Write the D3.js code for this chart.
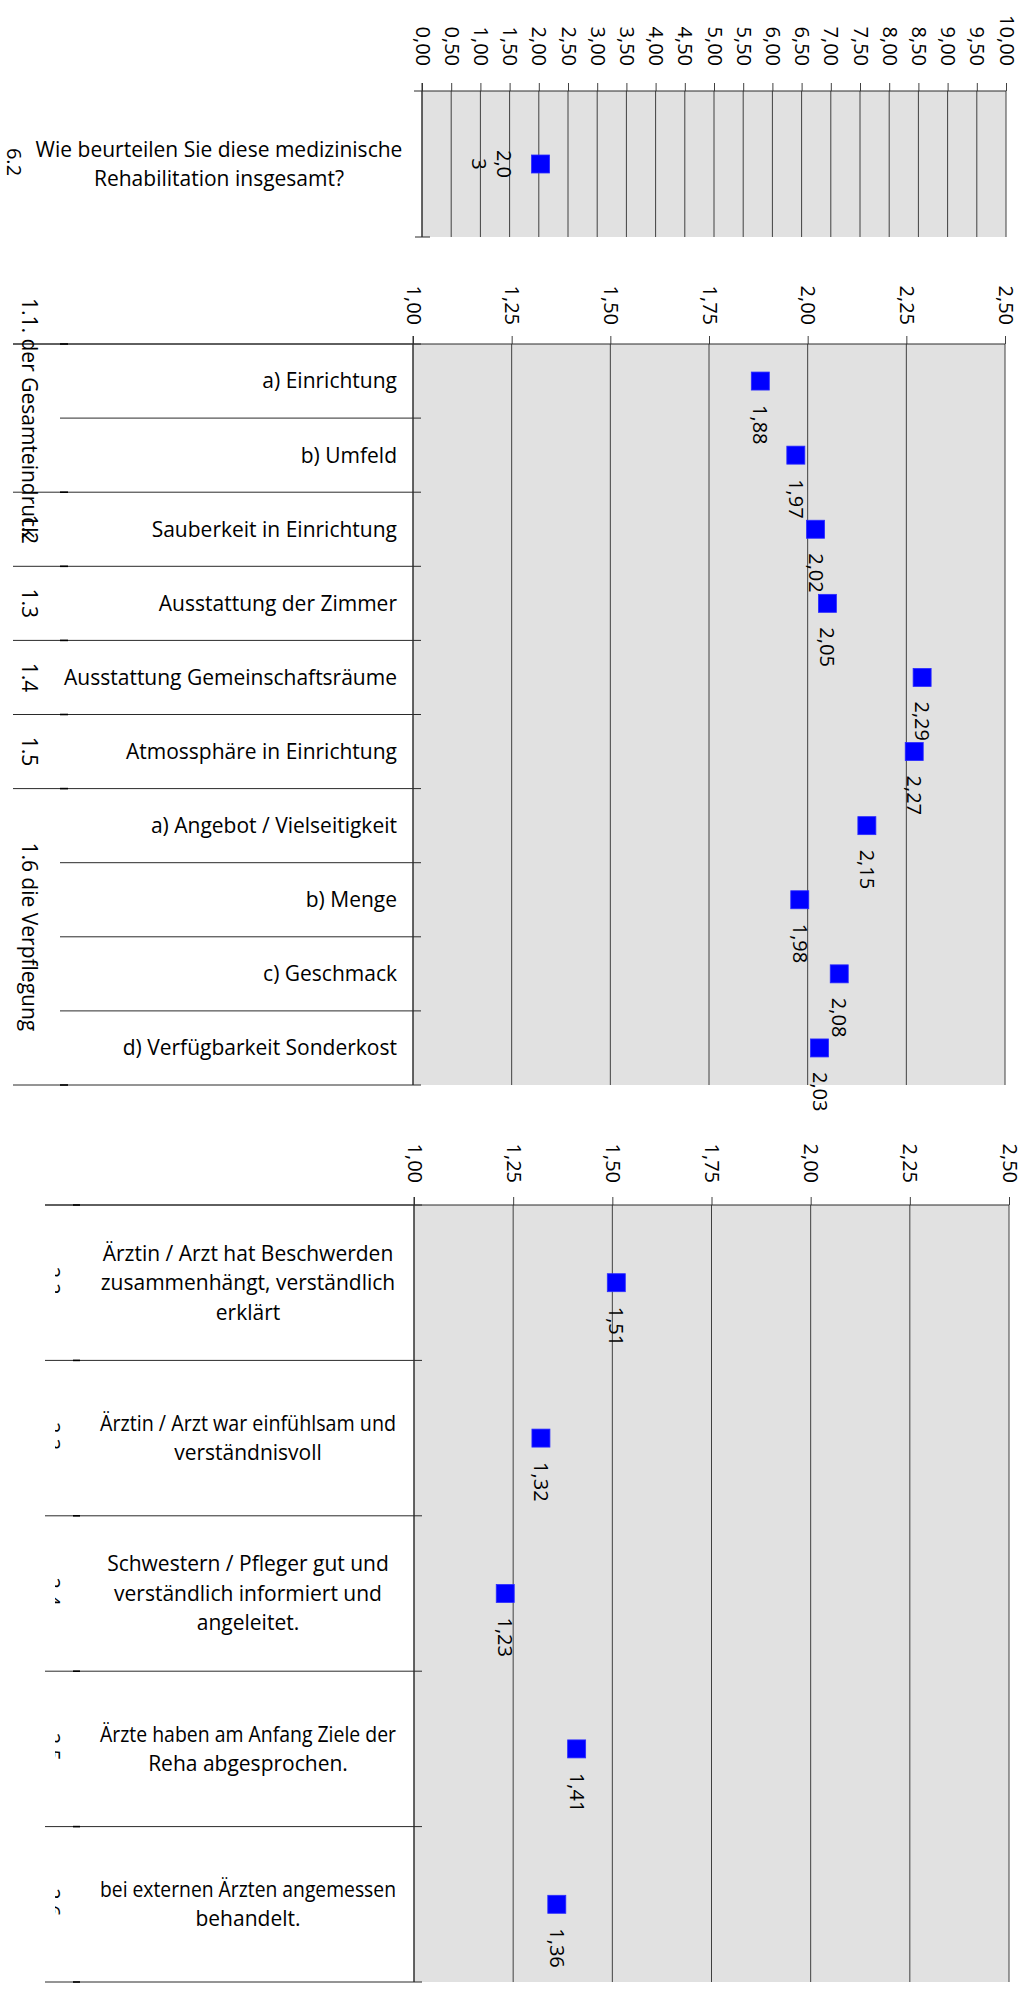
<!DOCTYPE html>
<html>
<head>
<meta charset="utf-8">
<script src="https://cdn.jsdelivr.net/npm/d3@7"></script>
<style>
body { margin: 0; background: #fff; }
text { font-family: "Open Sans", sans-serif; fill: #000; }
</style>
</head>
<body>
<svg id="chart" width="1027" height="1992"></svg>
<script>
// ---- panel 1: overall rating ----
var overallCode = "6.2";
var overallLabel = ["Wie beurteilen Sie diese medizinische", "Rehabilitation insgesamt?"];
var overallValue = [2.03];
var overallTicks = d3.range(0, 10.001, 0.5);

// ---- panel 2: facility ----
var facilityItems = ["a) Einrichtung", "b) Umfeld", "Sauberkeit in Einrichtung", "Ausstattung der Zimmer",
  "Ausstattung Gemeinschaftsräume", "Atmossphäre in Einrichtung", "a) Angebot / Vielseitigkeit",
  "b) Menge", "c) Geschmack", "d) Verfügbarkeit Sonderkost"];
var facilityValues = [1.88, 1.97, 2.02, 2.05, 2.29, 2.27, 2.15, 1.98, 2.08, 2.03];
var groupLabels = ["1.1. der Gesamteindruck", "1.2", "1.3", "1.4", "1.5", "1.6 die Verpflegung"];
var groupStarts = [0, 2, 3, 4, 5, 6];
var groupSizes = [2, 1, 1, 1, 1, 4];

// ---- panel 3: care ----
var careItems = [
  ["Ärztin / Arzt hat Beschwerden", "zusammenhängt, verständlich", "erklärt"],
  ["Ärztin / Arzt war einfühlsam und", "verständnisvoll"],
  ["Schwestern / Pfleger gut und", "verständlich informiert und", "angeleitet."],
  ["Ärzte haben am Anfang Ziele der", "Reha abgesprochen."],
  ["bei externen Ärzten angemessen", "behandelt."]
];
var careCodes = ["2.2", "2.3", "2.4", "2.5", "2.6"];
var careValues = [1.51, 1.32, 1.23, 1.41, 1.36];

var detailTicks = d3.range(1, 2.5001, 0.25);

var fmt = function(d) { return d3.format(".2f")(d).replace(".", ","); };
var svg = d3.select("#chart");
var GRID = "#404040", LINE = "#2a2a2a", PLOT_BG = "#e1e1e1", MARK = "#0000ff";

// draws top value axis with rotated labels, gridlines and background
function valuePanel(x, top, bottom, ticks, lineStart, gap, fontSize) {
  var g = svg.append("g");
  g.append("rect")
    .attr("x", x.range()[0]).attr("y", top)
    .attr("width", x.range()[1] - x.range()[0]).attr("height", bottom - top)
    .attr("fill", PLOT_BG);

  g.selectAll("line.grid").data(ticks).join("line")
    .attr("class", "grid")
    .attr("x1", d => x(d)).attr("x2", d => x(d))
    .attr("y1", top).attr("y2", bottom)
    .attr("stroke", GRID).attr("stroke-width", 1);

  var axis = d3.axisTop(x).tickValues(ticks).tickFormat(fmt).tickSize(8).tickSizeOuter(0);
  var ax = g.append("g").attr("transform", "translate(0," + top + ")").call(axis);
  ax.select(".domain").remove();
  ax.selectAll(".tick line").attr("stroke", GRID);
  ax.selectAll(".tick text")
    .attr("transform", "rotate(90)")
    .attr("x", -gap).attr("y", 0).attr("dy", "0.35em")
    .attr("text-anchor", "end")
    .style("font-family", "Open Sans")
    .style("font-size", fontSize + "px");

  g.append("line")
    .attr("x1", lineStart).attr("x2", x.range()[1])
    .attr("y1", top).attr("y2", top)
    .attr("stroke", LINE);
  g.append("line")
    .attr("x1", x.range()[0]).attr("x2", x.range()[0])
    .attr("y1", top - 8).attr("y2", bottom)
    .attr("stroke", LINE);
  return g;
}

function squares(g, x, cy, values) {
  g.selectAll("rect.pt").data(values).join("rect")
    .attr("class", "pt")
    .attr("x", d => x(d) - 9).attr("y", (d, i) => cy(i) - 9)
    .attr("width", 18).attr("height", 18)
    .attr("fill", MARK).attr("stroke", "#2b2bff").attr("stroke-width", 0.8);
}

// ============ panel 1 ============
var x1 = d3.scaleLinear().domain([0, 10]).range([422, 1006]);
var p1Top = 91, p1Bottom = 237, p1Mid = (p1Top + p1Bottom) / 2;
var g1 = valuePanel(x1, p1Top, p1Bottom, overallTicks, 414, 25, 20);
g1.append("line").attr("x1", 415).attr("x2", 430).attr("y1", p1Bottom).attr("y2", p1Bottom).attr("stroke", LINE);

squares(g1, x1, () => p1Mid, overallValue);

var lbl1 = g1.append("text")
  .attr("transform", "translate(" + (x1(overallValue[0]) - 37) + "," + p1Mid + ") rotate(90)")
  .attr("text-anchor", "middle")
  .style("font-size", "20px");
lbl1.append("tspan").attr("x", 0).attr("dy", "0.35em").text(fmt(overallValue[0]).slice(0, 3));
lbl1.append("tspan").attr("x", 0).attr("dy", "1.25em").text(fmt(overallValue[0]).slice(3));

var q1 = g1.append("text").attr("text-anchor", "middle").style("font-size", "21px");
q1.selectAll("tspan").data(overallLabel).join("tspan")
  .attr("x", 219)
  .attr("y", (d, i) => p1Mid + (i - (overallLabel.length - 1) / 2) * 29.5)
  .attr("dy", "0.35em")
  .text(d => d);

g1.append("text")
  .attr("transform", "translate(14," + (p1Mid - 2) + ") rotate(90)")
  .attr("text-anchor", "middle").attr("dy", "0.35em")
  .style("font-size", "20px")
  .text(overallCode);

// ============ panel 2 ============
var x2 = d3.scaleLinear().domain([1, 2.5]).range([413, 1005]);
var y2 = d3.scaleBand().domain(d3.range(facilityItems.length)).range([344, 1085]);
var g2 = valuePanel(x2, 344, 1085, detailTicks, 13, 19, 20);

// category separators
var boundaries2 = [];
groupStarts.forEach(function(s, gi) {
  for (var k = 0; k < groupSizes[gi]; k++) {
    boundaries2.push({ y: y2(s + k), outer: k === 0 });
  }
});
boundaries2.push({ y: 1085, outer: true });
g2.selectAll("line.sep").data(boundaries2).join("line")
  .attr("class", "sep")
  .attr("x1", d => d.outer ? 13 : 60).attr("x2", 421)
  .attr("y1", d => d.y).attr("y2", d => d.y)
  .attr("stroke", LINE);
// small darker ticks of the outer category level
g2.selectAll("line.otick").data(boundaries2.filter(d => d.outer)).join("line")
  .attr("class", "otick")
  .attr("x1", 60).attr("x2", 68)
  .attr("y1", d => d.y).attr("y2", d => d.y)
  .attr("stroke", "#000").attr("stroke-width", 1.6);

g2.selectAll("text.item").data(facilityItems).join("text")
  .attr("class", "item")
  .attr("x", 397)
  .attr("y", (d, i) => y2(i) + y2.bandwidth() / 2)
  .attr("dy", "0.35em")
  .attr("text-anchor", "end")
  .style("font-size", "21px")
  .text(d => d);

g2.selectAll("text.group").data(groupLabels).join("text")
  .attr("class", "group")
  .attr("transform", (d, i) => "translate(29," +
      (y2(groupStarts[i]) + groupSizes[i] * y2.bandwidth() / 2) + ") rotate(90)")
  .attr("text-anchor", "middle").attr("dy", "0.35em")
  .style("font-size", "21px")
  .text(d => d);

var cy2 = i => y2(i) + y2.bandwidth() / 2;
squares(g2, x2, cy2, facilityValues);
g2.selectAll("text.val").data(facilityValues).join("text")
  .attr("class", "val")
  .attr("transform", (d, i) => "translate(" + x2(d) + "," + (cy2(i) + 24) + ") rotate(90)")
  .attr("dy", "0.35em")
  .style("font-size", "20px")
  .text(d => fmt(d));

// ============ panel 3 ============
var x3 = d3.scaleLinear().domain([1, 2.5]).range([414, 1009]);
var y3 = d3.scaleBand().domain(d3.range(careItems.length)).range([1205, 1982]);
var g3 = valuePanel(x3, 1205, 1982, detailTicks, 45, 22, 20);
var cy3 = i => y3(i) + y3.bandwidth() / 2;

var seps3 = careItems.map((d, i) => y3(i)).concat([1982]);
g3.selectAll("line.sep").data(seps3).join("line")
  .attr("class", "sep")
  .attr("x1", 45).attr("x2", 422)
  .attr("y1", d => d).attr("y2", d => d)
  .attr("stroke", LINE);
g3.selectAll("line.otick").data(seps3).join("line")
  .attr("class", "otick")
  .attr("x1", 73).attr("x2", 80)
  .attr("y1", d => d).attr("y2", d => d)
  .attr("stroke", "#000").attr("stroke-width", 1.6);

var items3 = g3.selectAll("text.item").data(careItems).join("text")
  .attr("class", "item")
  .attr("text-anchor", "middle")
  .style("font-size", "21px");
items3.each(function(lines, i) {
  d3.select(this).selectAll("tspan").data(lines).join("tspan")
    .attr("x", 248)
    .attr("y", (d, k) => cy3(i) + (k - (lines.length - 1) / 2) * 29.5)
    .attr("dy", "0.35em")
    .text(d => d);
});
// the original wraps these labels inside a fixed box, keep lines in it
items3.selectAll("tspan").each(function() {
  if (this.getComputedTextLength() > 296) {
    d3.select(this).attr("textLength", 296).attr("lengthAdjust", "spacingAndGlyphs");
  }
});

// clipped outer-level codes (only a sliver is visible in the original)
svg.append("clipPath").attr("id", "codeClip")
  .append("rect").attr("x", 55).attr("y", 1205).attr("width", 8).attr("height", 777);
g3.append("g").attr("clip-path", "url(#codeClip)")
  .selectAll("text").data(careCodes).join("text")
  .attr("transform", (d, i) => "translate(46," + (cy3(i) - 2) + ") rotate(90)")
  .attr("text-anchor", "middle")
  .style("font-size", "20px")
  .text(d => d);

squares(g3, x3, cy3, careValues);
g3.selectAll("text.val").data(careValues).join("text")
  .attr("class", "val")
  .attr("transform", (d, i) => "translate(" + x3(d) + "," + (cy3(i) + 24) + ") rotate(90)")
  .attr("dy", "0.35em")
  .style("font-size", "20px")
  .text(d => fmt(d));
</script>
</body>
</html>
